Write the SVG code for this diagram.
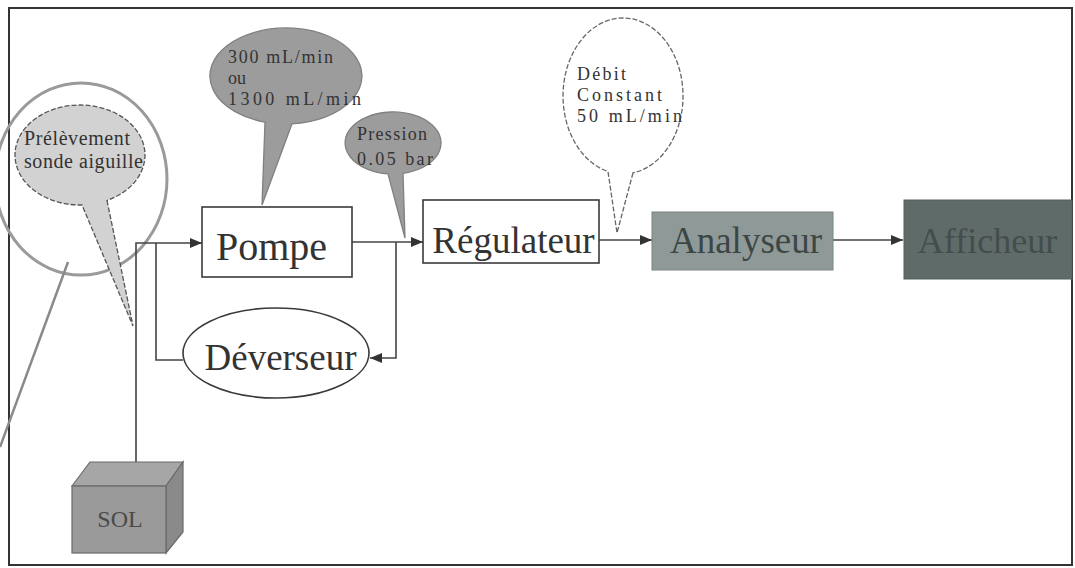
<svg xmlns="http://www.w3.org/2000/svg" width="1075" height="568" viewBox="0 0 1075 568">
<defs>
<style>
.box{stroke:#3a3a3a;stroke-width:1.6}
.lbl{font-family:"Liberation Serif",serif;fill:#333}
.small{font-family:"Liberation Serif",serif;fill:#333;font-size:18px}
.conn{fill:none;stroke:#444;stroke-width:1.6}
</style>
<marker id="arr" viewBox="0 0 12 10" refX="12" refY="5" markerWidth="12" markerHeight="10" markerUnits="userSpaceOnUse" orient="auto">
<path d="M0,0 L12,5 L0,10 z" fill="#333"/>
</marker>
</defs>
<rect width="1075" height="568" fill="#fff"/>
<rect x="9" y="8" width="1063" height="557" fill="none" stroke="#333" stroke-width="2"/>

<g id="lens">
<ellipse cx="81" cy="179" rx="86" ry="96" fill="none" stroke="#9a9a9a" stroke-width="3"/>
<line x1="68" y1="262" x2="0" y2="447" stroke="#8a8a8a" stroke-width="2.5"/>
</g>

<g id="bubble-prelevement">
<path d="M107,200.5 L133,326 L82,205 A65,50 0 1 1 107,200.5 Z" fill="#d2d2d2" stroke="#555" stroke-width="1.3" stroke-dasharray="5 2"/>
<text class="small" x="24" y="145" textLength="106" style="font-size:20px">Prélèvement</text>
<text class="small" x="24" y="168" textLength="119" style="font-size:20px">sonde aiguille</text>
</g>

<g id="bubble-debit-pompe">
<path d="M292,123.8 L262,205 L265,122.1 A76,48 0 1 1 292,123.8 Z" fill="#9c9c9c" stroke="#808080" stroke-width="1.3"/>
<text class="small" x="228" y="63" textLength="105">300 mL/min</text>
<text class="small" x="228" y="84">ou</text>
<text class="small" x="228" y="105" textLength="133">1300 mL/min</text>
</g>

<g id="bubble-pression">
<path d="M403,173.3 L405,238 L388,173.8 A48,31 0 1 1 403,173.3 Z" fill="#9c9c9c" stroke="#808080" stroke-width="1.3"/>
<text class="small" x="357" y="140" textLength="70">Pression</text>
<text class="small" x="357" y="165" textLength="76">0.05 bar</text>
</g>

<g id="bubble-debit-constant">
<path d="M633,172.9 L617,233 L608,171.5 A60,78 0 1 1 633,172.9 Z" fill="#fff" stroke="#666" stroke-width="1.3" stroke-dasharray="5 2"/>
<text class="small" x="577" y="80" textLength="49">Débit</text>
<text class="small" x="577" y="101" textLength="85">Constant</text>
<text class="small" x="577" y="122" textLength="105">50 mL/min</text>
</g>

<g id="connectors">
<path class="conn" d="M136,462 V243 H202" marker-end="url(#arr)"/>
<path class="conn" d="M156,243 V360 H183"/>
<path class="conn" d="M352,242 H423" marker-end="url(#arr)"/>
<path class="conn" d="M396,242 V358 H370" marker-end="url(#arr)"/>
<path class="conn" d="M599,240 H652" marker-end="url(#arr)"/>
<path class="conn" d="M833,240 H903" marker-end="url(#arr)"/>
</g>

<g id="pompe">
<rect class="box" x="202" y="207" width="150" height="70" fill="#fff"/>
<text class="lbl" x="271.5" y="260" font-size="40" text-anchor="middle">Pompe</text>
</g>

<g id="deverseur">
<ellipse class="box" cx="276" cy="353" rx="93" ry="45" fill="#fff"/>
<text class="lbl" x="280.5" y="370" font-size="37" text-anchor="middle">Déverseur</text>
</g>

<g id="regulateur">
<rect class="box" x="423" y="200" width="176" height="63" fill="#fff"/>
<text class="lbl" x="513.5" y="253" font-size="37" text-anchor="middle">Régulateur</text>
</g>

<g id="analyseur">
<rect x="652" y="212" width="181" height="58" fill="#8f9a98" stroke="#7a8482" stroke-width="1"/>
<text class="lbl" x="746" y="253" font-size="37" text-anchor="middle" style="fill:#3c4645">Analyseur</text>
</g>

<g id="afficheur">
<rect x="904" y="200" width="168" height="79" fill="#5f6b69" stroke="#55605e" stroke-width="1"/>
<text class="lbl" x="987.5" y="253" font-size="36" text-anchor="middle" style="fill:#434d4b">Afficheur</text>
</g>

<g id="sol">
<polygon points="72,486 90,462 183,462 166,486" fill="#a6a6a6" stroke="#6a6a6a" stroke-width="1.2"/>
<polygon points="166,486 183,462 183,532 166,553" fill="#8a8a8a" stroke="#6a6a6a" stroke-width="1.2"/>
<rect x="72" y="486" width="94" height="67" fill="#9a9a9a" stroke="#6a6a6a" stroke-width="1.2"/>
<text class="lbl" x="120" y="527" font-size="24" text-anchor="middle" style="fill:#4a4a4a">SOL</text>
</g>
</svg>
